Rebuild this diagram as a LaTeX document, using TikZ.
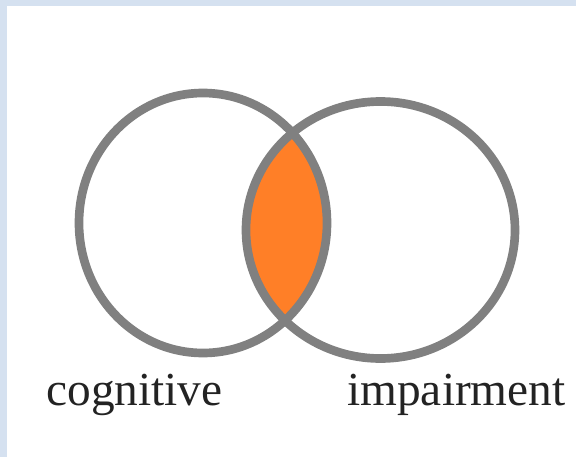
\documentclass[tikz,border=0pt]{standalone}
\usepackage{fontspec}
\setmainfont{Liberation Serif}
\definecolor{frameblue}{RGB}{213,225,240}
\definecolor{ringgray}{RGB}{128,128,128}
\definecolor{lensorange}{RGB}{255,127,39}
\definecolor{labelgray}{RGB}{35,35,35}
\begin{document}
\begin{tikzpicture}[x=0.75pt,y=-0.75pt,line width=6.5pt]
	\tikzset{every node/.style={inner sep=0pt,anchor=base west,text=labelgray,font=\fontsize{35.5}{40}\selectfont}}
	\def \lrx{124}
	\def \lry{130}
	\def \rrx{134.5}
	\def \rry{128.5}
	\path
	(203,223)coordinate(L)
	(380.5,230)coordinate(R)
	(42,405)coordinate(CL)
	(343,405)coordinate(IL)
	;
	\useasboundingbox (0,0) rectangle (576,457);
	\fill[frameblue] (0,0) rectangle (576,457);
	\fill[white] (7,6) rectangle (576,457);
	\begin{scope}
		\clip (L) ellipse [x radius=\lrx,y radius=\lry];
		\fill[lensorange] (R) ellipse [x radius=\rrx,y radius=\rry];
	\end{scope}
	\draw[ringgray] (L) ellipse [x radius=\lrx,y radius=\lry];
	\draw[ringgray] (R) ellipse [x radius=\rrx,y radius=\rry];
	
	\node (cog) at (CL) {cognitive};
	\node (imp) at (IL) {impairment};
\end{tikzpicture}
\end{document}
